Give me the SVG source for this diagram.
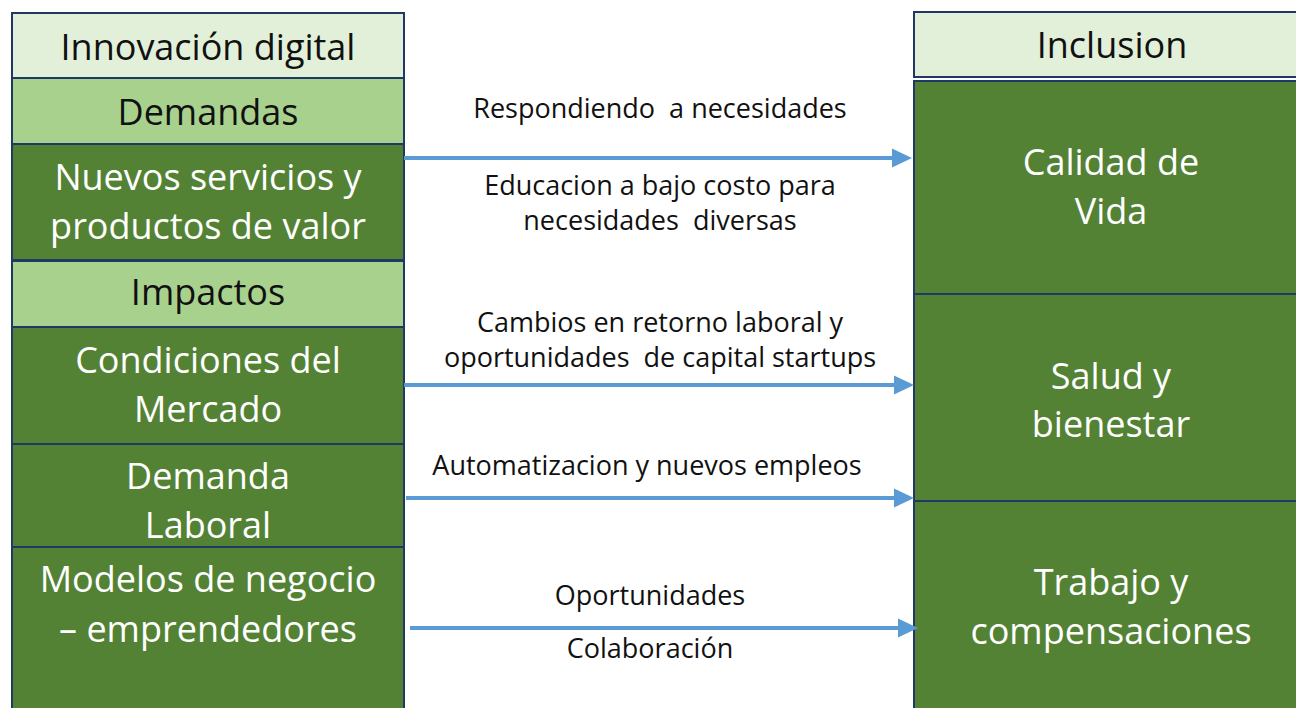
<svg xmlns="http://www.w3.org/2000/svg" width="1296" height="708" viewBox="0 0 1296 708">
<style>
.box{stroke:#1F3864;stroke-width:2}
.hdr{fill:#E2F0D9}
.mid{fill:#A9D18E}
.dark{fill:#548235}
.t{font-family:"Open Sans","Liberation Sans",sans-serif;font-size:36px;text-anchor:middle}
.tb{fill:#111111}
.tw{fill:#FFFFFF}
.lab{font-family:"Open Sans","Liberation Sans",sans-serif;font-size:27px;text-anchor:middle;fill:#111111;white-space:pre}
.arr{stroke:#5B9BD5;stroke-width:4;fill:none}
</style>
<defs>
<marker id="ah" markerUnits="userSpaceOnUse" markerWidth="20" markerHeight="20" refX="0" refY="10" orient="auto">
<path d="M0,0.5 L20,10 L0,19.5 Z" fill="#5B9BD5"/>
</marker>
</defs>
<rect width="1296" height="708" fill="#FFFFFF"/>
<g id="innovacion-digital"><rect class="box hdr" x="12" y="13" width="392" height="65"/><text class="t tb" x="208" y="60">Innovación digital</text></g>
<g id="demandas"><rect class="box mid" x="12" y="78" width="392" height="66"/><text class="t tb" x="208" y="125">Demandas</text></g>
<g id="nuevos-servicios"><rect class="box dark" x="12" y="144" width="392" height="116"/><text class="t tw" x="208" y="190">Nuevos servicios y</text><text class="t tw" x="208" y="239">productos de valor</text></g>
<g id="impactos"><rect class="box mid" x="12" y="261" width="392" height="66"/><text class="t tb" x="208" y="305">Impactos</text></g>
<g id="condiciones-mercado"><rect class="box dark" x="12" y="327" width="392" height="117"/><text class="t tw" x="208" y="373">Condiciones del</text><text class="t tw" x="208" y="422">Mercado</text></g>
<g id="demanda-laboral"><rect class="box dark" x="12" y="444" width="392" height="103"/><text class="t tw" x="208" y="489">Demanda</text><text class="t tw" x="208" y="538">Laboral</text></g>
<g id="modelos-negocio"><rect class="box dark" x="12" y="547" width="392" height="175"/><text class="t tw" x="208" y="592">Modelos de negocio</text><text class="t tw" x="208" y="642">– emprendedores</text></g>
<g id="inclusion"><rect class="box hdr" x="914" y="12" width="400" height="65"/><text class="t tb" x="1112" y="58">Inclusion</text></g>
<g id="calidad-vida"><rect class="box dark" x="914" y="81" width="400" height="213"/><text class="t tw" x="1111" y="175">Calidad de</text><text class="t tw" x="1111" y="224">Vida</text></g>
<g id="salud-bienestar"><rect class="box dark" x="914" y="294" width="400" height="207"/><text class="t tw" x="1111" y="389">Salud y</text><text class="t tw" x="1111" y="437">bienestar</text></g>
<g id="trabajo-compensaciones"><rect class="box dark" x="914" y="501" width="400" height="220"/><text class="t tw" x="1111" y="595">Trabajo y</text><text class="t tw" x="1111" y="644">compensaciones</text></g>
<g id="connectors">
<line class="arr" x1="404" y1="158" x2="892" y2="158" marker-end="url(#ah)"/>
<line class="arr" x1="404" y1="385" x2="894" y2="385" marker-end="url(#ah)"/>
<line class="arr" x1="406" y1="498" x2="894" y2="498" marker-end="url(#ah)"/>
<line class="arr" x1="410" y1="628" x2="898" y2="628" marker-end="url(#ah)"/>
<text class="lab" x="660" y="118">Respondiendo  a necesidades</text>
<text class="lab" x="660" y="195">Educacion a bajo costo para</text>
<text class="lab" x="660" y="230">necesidades  diversas</text>
<text class="lab" x="660" y="332">Cambios en retorno laboral y</text>
<text class="lab" x="660" y="367">oportunidades  de capital startups</text>
<text class="lab" x="647" y="475">Automatizacion y nuevos empleos</text>
<text class="lab" x="650" y="605">Oportunidades</text>
<text class="lab" x="650" y="658">Colaboración</text>
</g>
</svg>
